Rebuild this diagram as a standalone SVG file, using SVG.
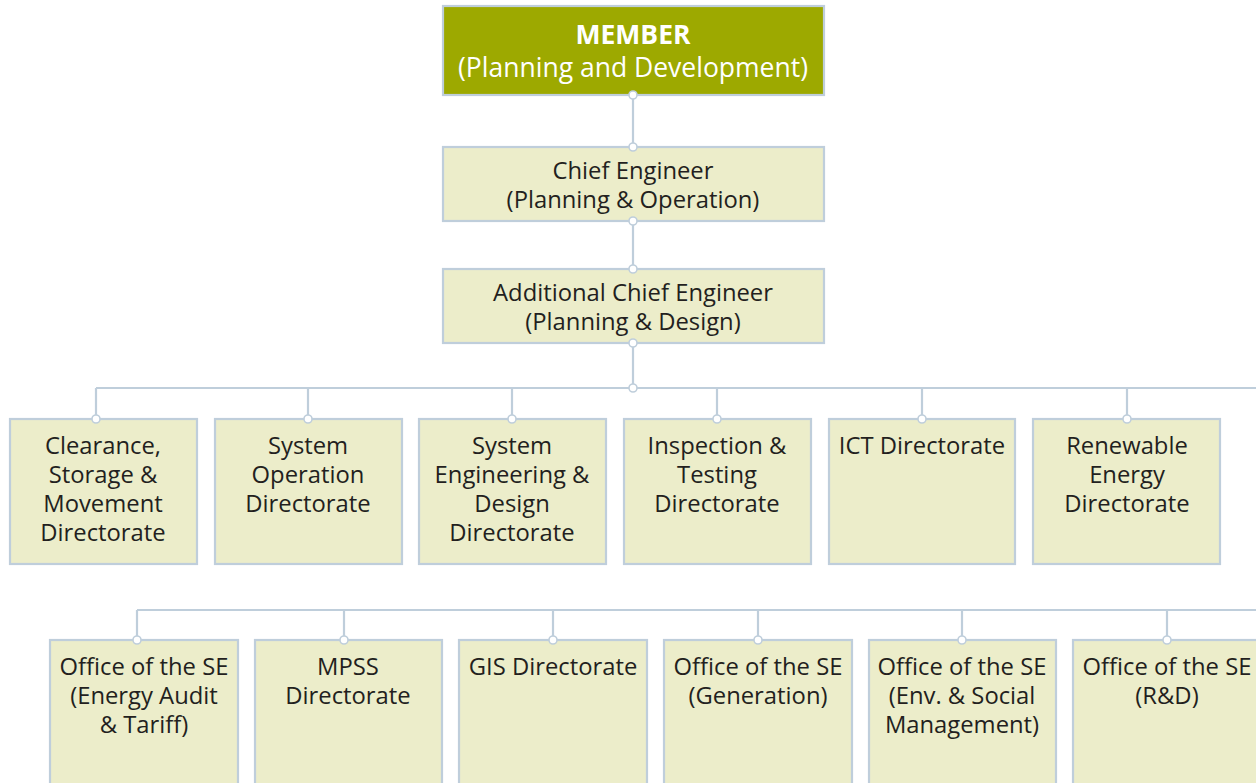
<svg xmlns="http://www.w3.org/2000/svg" width="1256" height="783" viewBox="0 0 1256 783">
<style>
.box{fill:#ecedca;stroke:#bfcedb;stroke-width:2.2}
.top{fill:#9da900;stroke:#bfcedb;stroke-width:2.2}
.t{font-family:"Open Sans","Liberation Sans",sans-serif;font-size:23.8px;fill:#231f20;text-anchor:middle}
.tw{font-family:"Open Sans","Liberation Sans",sans-serif;font-size:26.5px;fill:#ffffff;text-anchor:middle}
.c{fill:none;stroke:#bfcedb;stroke-width:2.2}
.d{fill:#ffffff;stroke:#bfcedb;stroke-width:1.6}
</style>
<rect width="1256" height="783" fill="#ffffff"/>
<g id="connectors">
<path class="c" d="M633 95V147M633 221V269M633 343V388M96 388H1256M96 388V419M308 388V419M512 388V419M717 388V419M922 388V419M1127 388V419"/>
<path class="c" d="M137 610H1256M137 610V640M344 610V640M553 610V640M758 610V640M962 610V640M1167 610V640"/>
</g>
<g id="n-member"><rect class="top" x="443" y="6" width="381" height="89"/>
<text class="tw" x="633" y="44" font-weight="bold">MEMBER</text>
<text class="tw" x="633" y="77">(Planning and Development)</text></g>
<g id="n-ce"><rect class="box" x="443" y="147" width="381" height="74"/>
<text class="t" x="633" y="179">Chief Engineer</text>
<text class="t" x="633" y="208">(Planning &amp; Operation)</text></g>
<g id="n-ace"><rect class="box" x="443" y="269" width="381" height="74"/>
<text class="t" x="633" y="301">Additional Chief Engineer</text>
<text class="t" x="633" y="330">(Planning &amp; Design)</text></g>
<g id="n-csm"><rect class="box" x="10" y="419" width="187" height="145"/>
<text class="t" x="103" y="454">Clearance,</text><text class="t" x="103" y="483">Storage &amp;</text><text class="t" x="103" y="512">Movement</text><text class="t" x="103" y="541">Directorate</text></g>
<g id="n-so"><rect class="box" x="215" y="419" width="187" height="145"/>
<text class="t" x="308" y="454">System</text><text class="t" x="308" y="483">Operation</text><text class="t" x="308" y="512">Directorate</text></g>
<g id="n-sed"><rect class="box" x="419" y="419" width="187" height="145"/>
<text class="t" x="512" y="454">System</text><text class="t" x="512" y="483">Engineering &amp;</text><text class="t" x="512" y="512">Design</text><text class="t" x="512" y="541">Directorate</text></g>
<g id="n-it"><rect class="box" x="624" y="419" width="187" height="145"/>
<text class="t" x="717" y="454">Inspection &amp;</text><text class="t" x="717" y="483">Testing</text><text class="t" x="717" y="512">Directorate</text></g>
<g id="n-ict"><rect class="box" x="829" y="419" width="186" height="145"/>
<text class="t" x="922" y="454">ICT Directorate</text></g>
<g id="n-re"><rect class="box" x="1033" y="419" width="187" height="145"/>
<text class="t" x="1127" y="454">Renewable</text><text class="t" x="1127" y="483">Energy</text><text class="t" x="1127" y="512">Directorate</text></g>
<g id="n-eat"><rect class="box" x="50" y="640" width="188" height="150"/>
<text class="t" x="144" y="675">Office of the SE</text><text class="t" x="144" y="704">(Energy Audit</text><text class="t" x="144" y="733">&amp; Tariff)</text></g>
<g id="n-mpss"><rect class="box" x="255" y="640" width="187" height="150"/>
<text class="t" x="348" y="675">MPSS</text><text class="t" x="348" y="704">Directorate</text></g>
<g id="n-gis"><rect class="box" x="459" y="640" width="188" height="150"/>
<text class="t" x="553" y="675">GIS Directorate</text></g>
<g id="n-gen"><rect class="box" x="664" y="640" width="188" height="150"/>
<text class="t" x="758" y="675">Office of the SE</text><text class="t" x="758" y="704">(Generation)</text></g>
<g id="n-esm"><rect class="box" x="869" y="640" width="187" height="150"/>
<text class="t" x="962" y="675">Office of the SE</text><text class="t" x="962" y="704">(Env. &amp; Social</text><text class="t" x="962" y="733">Management)</text></g>
<g id="n-rd"><rect class="box" x="1073" y="640" width="188" height="150"/>
<text class="t" x="1167" y="675">Office of the SE</text><text class="t" x="1167" y="704">(R&amp;D)</text></g>
<g id="dots">
<circle class="d" cx="633" cy="95" r="4"/><circle class="d" cx="633" cy="147" r="4"/>
<circle class="d" cx="633" cy="221" r="4"/><circle class="d" cx="633" cy="269" r="4"/>
<circle class="d" cx="633" cy="343" r="4"/><circle class="d" cx="633" cy="388" r="4"/>
<circle class="d" cx="96" cy="419" r="4"/><circle class="d" cx="308" cy="419" r="4"/><circle class="d" cx="512" cy="419" r="4"/><circle class="d" cx="717" cy="419" r="4"/><circle class="d" cx="922" cy="419" r="4"/><circle class="d" cx="1127" cy="419" r="4"/>
<circle class="d" cx="137" cy="640" r="4"/><circle class="d" cx="344" cy="640" r="4"/><circle class="d" cx="553" cy="640" r="4"/><circle class="d" cx="758" cy="640" r="4"/><circle class="d" cx="962" cy="640" r="4"/><circle class="d" cx="1167" cy="640" r="4"/>
</g>
</svg>
